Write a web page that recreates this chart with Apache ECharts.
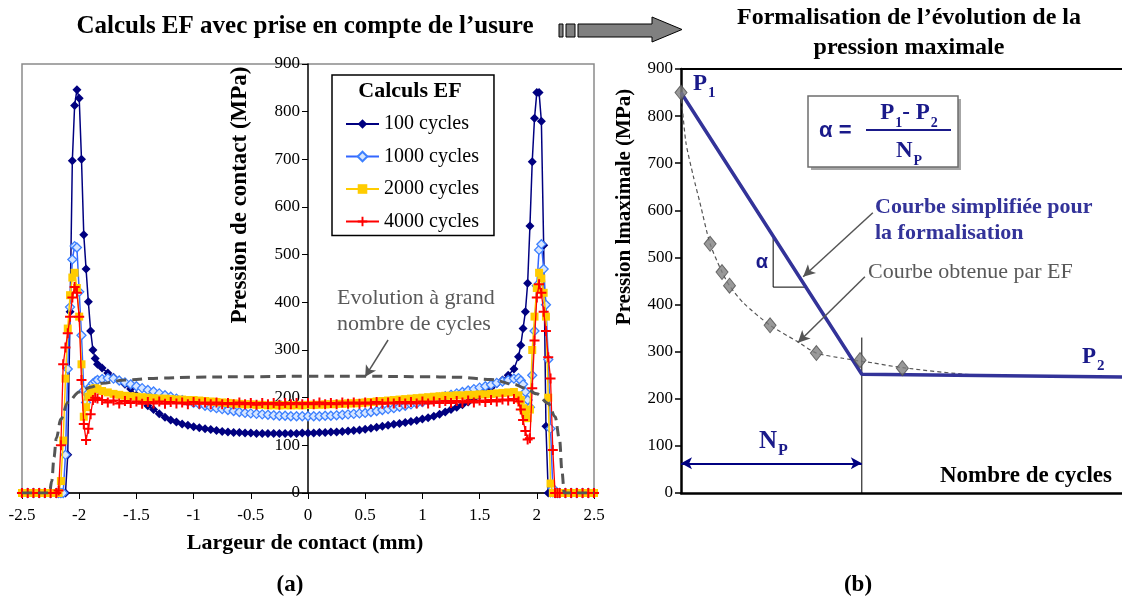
<!DOCTYPE html>
<html>
<head>
<meta charset="utf-8">
<script src="https://cdn.jsdelivr.net/npm/echarts@6/dist/echarts.min.js"></script>
<style>
html,body{margin:0;padding:0;background:#fff;}
#c{width:1122px;height:606px;}
</style>
</head>
<body>
<div id="c"></div>
<script>
// ---------- (a) FE contact pressure profiles ----------
const X = [-2.5,-2.45,-2.4,-2.35,-2.3,-2.25,
  -2.2,-2.18,-2.16,-2.14,-2.12,-2.1,-2.08,-2.06,-2.04,-2.02,-2,-1.98,-1.96,-1.94,-1.92,-1.9,-1.88,-1.86,-1.84,
  -1.8,-1.75,-1.7,-1.65,-1.6,-1.55,-1.5,-1.45,-1.4,-1.35,-1.3,-1.25,-1.2,-1.15,-1.1,-1.05,-1,-0.95,-0.9,-0.85,-0.8,-0.75,-0.7,-0.65,-0.6,-0.55,-0.5,-0.45,-0.4,-0.35,-0.3,-0.25,-0.2,-0.15,-0.1,-0.05,
  0,0.05,0.1,0.15,0.2,0.25,0.3,0.35,0.4,0.45,0.5,0.55,0.6,0.65,0.7,0.75,0.8,0.85,0.9,0.95,1,1.05,1.1,1.15,1.2,1.25,1.3,1.35,1.4,1.45,1.5,1.55,1.6,1.65,1.7,1.75,1.8,
  1.84,1.86,1.88,1.9,1.92,1.94,1.96,1.98,2,2.02,2.04,2.06,2.08,2.1,2.12,2.14,2.16,2.18,2.2,
  2.25,2.3,2.35,2.4,2.45,2.5];

const P100 = [0,0,0,0,0,0,
  0,0,0,0,0,80,380,697,813,846,828,700,542,470,401,340,300,282,270,
  262,252,243,236,228,218,205,193,183,175,166,159,153,149,145,142,139,137,135,133,131,129,128,127,127,126,126,125,125,125,125,125,125,125,125,126,
  126,126,127,127,128,128,129,130,131,132,134,136,138,140,142,144,146,148,150,152,155,158,161,165,170,175,180,185,191,198,205,213,221,229,237,247,260,
  286,310,345,380,440,560,695,786,840,840,780,520,140,0,0,0,0,0,0,
  0,0,0,0,0,0];

const P1000 = [0,0,0,0,0,0,
  0,0,0,0,80,260,390,490,518,515,422,331,215,190,210,224,230,234,237,
  239,241,240,236,232,228,224,220,216,213,209,205,202,198,195,192,189,186,183,180,178,176,174,172,170,168,167,166,165,164,163,162,162,161,161,161,
  161,161,161,162,162,163,164,165,166,167,168,170,172,174,176,178,181,183,186,188,191,194,197,200,203,206,209,212,215,218,221,224,227,231,234,237,240,241,
  236,228,212,195,180,247,340,435,510,522,470,395,280,135,10,0,0,0,0,
  0,0,0,0,0,0];

const P2000 = [0,0,0,0,0,0,
  0,0,25,110,240,345,415,452,462,430,370,270,160,180,202,212,218,220,218,
  214,211,208,206,204,203,202,201,200,199,198,198,197,196,196,195,195,194,193,192,191,190,189,188,187,186,186,185,185,184,184,184,184,184,184,
  184,185,185,185,186,186,187,187,188,188,189,190,191,192,193,194,195,196,197,198,199,200,201,202,203,204,204,205,205,206,206,207,207,208,209,210,211,212,
  205,195,178,165,157,175,300,370,430,462,450,420,370,200,20,0,0,0,0,
  0,0,0,0,0,0];

const P4000 = [0,0,0,0,0,0,
  0,5,100,270,305,335,370,410,432,420,370,237,145,111,135,165,195,200,198,
  195,190,194,188,193,189,192,187,191,188,192,187,191,188,190,186,191,187,190,186,190,186,189,186,190,186,189,185,189,186,189,185,189,186,189,
  186,189,186,190,186,189,186,190,187,190,187,190,187,191,187,190,188,191,188,191,188,192,188,192,189,193,189,193,190,194,190,194,191,195,192,196,194,197,
  192,175,153,130,112,115,220,320,410,438,420,380,340,285,240,90,0,0,0,
  0,0,0,0,0,0];

// long-term evolution (dashed)
const EVOL_X = [-2.5,-2.26,-2.24,-2.22,-2.2,-2.16,-2.1,-2,-1.9,-1.8,-1.6,-1.3,-1,-0.5,0,0.5,1,1.3,1.6,1.8,1.9,2,2.1,2.16,2.2,2.22,2.24,2.5];
const EVOL_Y = [0,0,25,75,115,155,190,212,222,230,237,241,243,244,245,245,244,243,238,228,220,208,188,160,110,45,0,0];
const EVOL_ARROW = [[0.70,321],[0.50,244]];

const SERIES_NAMES = ['100 cycles','1000 cycles','2000 cycles','4000 cycles'];

// ---------- (b) formalisation ----------
const FE_CYCLES = [0,6.6,9.3,11.0,20.2,30.7,40.6,50.2];
const FE_PMAX   = [850,529,469,440,356,297,282,265];
const FE_CURVE_X = [0,1.1,2.8,4.3,6.6,9.3,11.0,14.2,20.2,26.3,30.7,36.7,40.6,43.6,50.2,66,86,100];
const FE_CURVE_Y = [850,745,672,616,529,469,440,403,356,322,297,286,280,276,266,251,247,246];
const SIMPL_X = [0,41,100];
const SIMPL_Y = [850,252,246];
const NP = 41;
const NP_LINE_TOP = 330;
const NP_ARROW_Y = 63;
const ALPHA_TRI = [[20.9,542],[20.9,437],[28.3,437]];
const ARROW_SIMPL = [[43.5,595],[27.7,459]];
const ARROW_FE = [[41.7,459],[26.5,319]];

const SERIF = '"Liberation Serif", "DejaVu Serif", serif';
const BLUE = '#333399';
const NAVYTXT = '#1a1a8a';

const pair = (xs, ys) => xs.map((x, i) => [x, ys[i]]);
const PLUS = 'path://M4,0h2v4h4v2h-4v4h-2v-4h-4v-2h4z';

const chart = echarts.init(document.getElementById('c'), null, {renderer: 'canvas'});

const axisLbl = {fontFamily: SERIF, fontSize: 17, color: '#000'};
const noLine = {show: false};

const option = {
  animation: false,
  backgroundColor: '#fff',
  grid: [
    {left: 22, top: 64, width: 572, height: 429, show: true, borderColor: '#8a8a8a', borderWidth: 1.5, backgroundColor: 'transparent', outerBoundsMode: 'none', containLabel: false},
    {left: 681, top: 69, width: 441, height: 424, show: false, outerBoundsMode: 'none', containLabel: false}
  ],
  xAxis: [
    {gridIndex: 0, type: 'value', min: -2.5, max: 2.5, interval: 0.5,
     axisLine: {onZero: false, lineStyle: {color: '#000', width: 1.5}},
     axisTick: {show: true, length: 6, lineStyle: {color: '#000'}},
     axisLabel: Object.assign({margin: 14}, axisLbl),
     splitLine: noLine},
    {gridIndex: 1, type: 'value', min: 0, max: 100, position: 'bottom',
     axisLine: {onZero: false, lineStyle: {color: '#000', width: 2.5}},
     axisTick: noLine, axisLabel: noLine, splitLine: noLine},
    {gridIndex: 1, type: 'value', min: 0, max: 100, position: 'top',
     axisLine: {onZero: false, lineStyle: {color: '#000', width: 2}},
     axisTick: noLine, axisLabel: noLine, splitLine: noLine}
  ],
  yAxis: [
    {gridIndex: 0, type: 'value', min: 0, max: 900, interval: 100, position: 'left', offset: -286,
     axisLine: {show: true, onZero: false, lineStyle: {color: '#000', width: 1.5}},
     axisTick: {show: true, length: 6, lineStyle: {color: '#000'}},
     axisLabel: Object.assign({margin: 8}, axisLbl),
     splitLine: noLine},
    {gridIndex: 1, type: 'value', min: 0, max: 900, interval: 100,
     axisLine: {show: true, onZero: false, lineStyle: {color: '#000', width: 2.5}},
     axisTick: {show: true, length: 6, lineStyle: {color: '#000', width: 1.5}},
     axisLabel: Object.assign({margin: 8}, axisLbl),
     splitLine: noLine}
  ],
  legend: {
    data: SERIES_NAMES,
    orient: 'vertical',
    left: 332, top: 75,
    padding: [39, 15, 4, 13],
    itemGap: 12.5,
    itemWidth: 33, itemHeight: 12,
    backgroundColor: '#fff',
    borderColor: '#000', borderWidth: 1.5, borderRadius: 0,
    selectedMode: false,
    textStyle: {fontFamily: SERIF, fontSize: 20, color: '#000', padding: [0,0,0,0]}
  },
  series: [
    {name: '100 cycles', type: 'line', xAxisIndex: 0, yAxisIndex: 0,
     data: pair(X, P100), showAllSymbol: true, symbol: 'diamond', symbolSize: 9,
     lineStyle: {color: '#000080', width: 1.5}, itemStyle: {color: '#000080'}, z: 2},
    {name: '1000 cycles', type: 'line', xAxisIndex: 0, yAxisIndex: 0,
     data: pair(X, P1000), showAllSymbol: true, symbol: 'diamond', symbolSize: 9,
     lineStyle: {color: '#3366FF', width: 1.5}, itemStyle: {color: '#d6e6ff', borderColor: '#3d80ff', borderWidth: 1.3}, z: 3},
    {name: '2000 cycles', type: 'line', xAxisIndex: 0, yAxisIndex: 0,
     data: pair(X, P2000), showAllSymbol: true, symbol: 'rect', symbolSize: 8,
     lineStyle: {color: '#FFCC00', width: 1.5}, itemStyle: {color: '#FFCC00'}, z: 4},
    {name: '4000 cycles', type: 'line', xAxisIndex: 0, yAxisIndex: 0,
     data: pair(X, P4000), showAllSymbol: true, symbol: PLUS, symbolSize: 10,
     lineStyle: {color: '#FF0000', width: 1.3}, itemStyle: {color: '#FF0000'}, z: 5},
    {name: 'evol', type: 'line', xAxisIndex: 0, yAxisIndex: 0,
     data: pair(EVOL_X, EVOL_Y), showSymbol: false, smooth: 0.35, smoothMonotone: 'x',
     lineStyle: {color: '#555', width: 3, type: [10, 6]}, z: 6, silent: true,
     markLine: {silent: true, symbol: ['none', 'arrow'], symbolSize: [9, 11], label: {show: false},
       lineStyle: {color: '#555', width: 1.5, type: 'solid'},
       data: [[{coord: EVOL_ARROW[0]}, {coord: EVOL_ARROW[1]}]]}},

    // (b)
    {name: 'fecurve', type: 'line', xAxisIndex: 1, yAxisIndex: 1,
     data: pair(FE_CURVE_X, FE_CURVE_Y), showSymbol: false, smooth: 0.25,
     lineStyle: {color: '#555', width: 1.2, type: [4, 3]}, z: 2, silent: true,
     markLine: {silent: true, symbol: ['none', 'arrow'], symbolSize: [9, 12], label: {show: false},
       lineStyle: {color: '#555', width: 1.5, type: 'solid'},
       data: [[{coord: ARROW_SIMPL[0]}, {coord: ARROW_SIMPL[1]}],
              [{coord: ARROW_FE[0]}, {coord: ARROW_FE[1]}]]}},
    {name: 'simpl', type: 'line', xAxisIndex: 1, yAxisIndex: 1,
     data: pair(SIMPL_X, SIMPL_Y), showSymbol: false,
     lineStyle: {color: BLUE, width: 3.5}, z: 3, silent: true},
    {name: 'np', type: 'line', xAxisIndex: 1, yAxisIndex: 1,
     data: [[NP, 0], [NP, NP_LINE_TOP]], showSymbol: false,
     lineStyle: {color: '#000', width: 1}, z: 2, silent: true,
     markLine: {silent: true, symbol: ['arrow', 'arrow'], symbolSize: [9, 11], label: {show: false},
       lineStyle: {color: '#000080', width: 2, type: 'solid'},
       data: [[{coord: [0, NP_ARROW_Y]}, {coord: [NP, NP_ARROW_Y]}]]}},
    {name: 'alpha', type: 'line', xAxisIndex: 1, yAxisIndex: 1,
     data: ALPHA_TRI, showSymbol: false,
     lineStyle: {color: '#000', width: 1}, z: 2, silent: true},
    {name: 'fe', type: 'scatter', xAxisIndex: 1, yAxisIndex: 1,
     data: pair(FE_CYCLES, FE_PMAX), symbol: 'diamond', symbolSize: [12, 15],
     itemStyle: {color: '#7f7f7f', borderColor: '#4d4d4d', borderWidth: 1}, z: 5, silent: true}
  ],
  graphic: [
    // titles
    {type: 'text', x: 305, y: 27, style: {text: 'Calculs EF avec prise en compte de l\u2019usure', fontFamily: SERIF, fontSize: 25, fontWeight: 'bold', fill: '#000', align: 'center', verticalAlign: 'middle'}},
    {type: 'text', x: 909, y: 18, style: {text: 'Formalisation de l\u2019\u00e9volution de la', fontFamily: SERIF, fontSize: 24, fontWeight: 'bold', fill: '#000', align: 'center', verticalAlign: 'middle'}},
    {type: 'text', x: 909, y: 48, style: {text: 'pression maximale', fontFamily: SERIF, fontSize: 24, fontWeight: 'bold', fill: '#000', align: 'center', verticalAlign: 'middle'}},
    // block arrow
    {type: 'rect', shape: {x: 559, y: 24, width: 4, height: 13}, style: {fill: '#808080', stroke: '#000', lineWidth: 1}},
    {type: 'rect', shape: {x: 566, y: 24, width: 9, height: 13}, style: {fill: '#808080', stroke: '#000', lineWidth: 1}},
    {type: 'polygon', shape: {points: [[578,24],[652,24],[652,17],[682,29.5],[652,42],[652,37],[578,37]]}, style: {fill: '#808080', stroke: '#000', lineWidth: 1}},
    // (a) axis names
    {type: 'text', x: 240, y: 195, rotation: Math.PI / 2, style: {text: 'Pression de contact (MPa)', fontFamily: SERIF, fontSize: 23, fontWeight: 'bold', fill: '#000', align: 'center', verticalAlign: 'middle'}},
    {type: 'text', x: 305, y: 543, style: {text: 'Largeur de contact (mm)', fontFamily: SERIF, fontSize: 22, fontWeight: 'bold', fill: '#000', align: 'center', verticalAlign: 'middle'}},
    {type: 'text', x: 410, y: 91, z: 100, style: {text: 'Calculs EF', fontFamily: SERIF, fontSize: 22, fontWeight: 'bold', fill: '#000', align: 'center', verticalAlign: 'middle'}},
    {type: 'text', x: 337, y: 298, style: {text: 'Evolution \u00e0 grand', fontFamily: SERIF, fontSize: 22, fill: '#595959', align: 'left', verticalAlign: 'middle'}},
    {type: 'text', x: 337, y: 324, style: {text: 'nombre de cycles', fontFamily: SERIF, fontSize: 22, fill: '#595959', align: 'left', verticalAlign: 'middle'}},
    {type: 'text', x: 290, y: 585, style: {text: '(a)', fontFamily: SERIF, fontSize: 23, fontWeight: 'bold', fill: '#000', align: 'center', verticalAlign: 'middle'}},
    {type: 'text', x: 858, y: 585, style: {text: '(b)', fontFamily: SERIF, fontSize: 23, fontWeight: 'bold', fill: '#000', align: 'center', verticalAlign: 'middle'}},
    // (b) axis name
    {type: 'text', x: 625, y: 207, rotation: Math.PI / 2, style: {text: 'Pression lmaximale (MPa)', fontFamily: SERIF, fontSize: 21, fontWeight: 'bold', fill: '#000', align: 'center', verticalAlign: 'middle'}},
    {type: 'text', x: 940, y: 476, style: {text: 'Nombre de cycles', fontFamily: SERIF, fontSize: 23, fontWeight: 'bold', fill: '#000', align: 'left', verticalAlign: 'middle'}},
    // P1, P2, NP, alpha
    {type: 'text', x: 693, y: 84, style: {text: '{p|P}{s|1}', align: 'left', verticalAlign: 'middle',
      rich: {p: {fontFamily: SERIF, fontSize: 23, fontWeight: 'bold', fill: NAVYTXT, lineHeight: 24, verticalAlign: 'bottom'},
             s: {fontFamily: SERIF, fontSize: 15, fontWeight: 'bold', fill: NAVYTXT, lineHeight: 18, verticalAlign: 'bottom', padding: [0,0,-5,1]}}}},
    {type: 'text', x: 1082, y: 357, style: {text: '{p|P}{s|2}', align: 'left', verticalAlign: 'middle',
      rich: {p: {fontFamily: SERIF, fontSize: 23, fontWeight: 'bold', fill: NAVYTXT, lineHeight: 24, verticalAlign: 'bottom'},
             s: {fontFamily: SERIF, fontSize: 15, fontWeight: 'bold', fill: NAVYTXT, lineHeight: 18, verticalAlign: 'bottom', padding: [0,0,-5,1]}}}},
    {type: 'text', x: 759, y: 441, style: {text: '{p|N}{s|P}', align: 'left', verticalAlign: 'middle',
      rich: {p: {fontFamily: SERIF, fontSize: 25, fontWeight: 'bold', fill: NAVYTXT, lineHeight: 26, verticalAlign: 'bottom'},
             s: {fontFamily: SERIF, fontSize: 16, fontWeight: 'bold', fill: NAVYTXT, lineHeight: 18, verticalAlign: 'bottom', padding: [0,0,-5,1]}}}},
    {type: 'text', x: 762, y: 262, style: {text: '\u03b1', fontFamily: '"Liberation Sans", sans-serif', fontSize: 20, fontWeight: 'bold', fill: NAVYTXT, align: 'center', verticalAlign: 'middle'}},
    // annotations
    {type: 'text', x: 875, y: 207, style: {text: 'Courbe simplifi\u00e9e pour', fontFamily: SERIF, fontSize: 22, fontWeight: 'bold', fill: BLUE, align: 'left', verticalAlign: 'middle'}},
    {type: 'text', x: 875, y: 233, style: {text: 'la formalisation', fontFamily: SERIF, fontSize: 22, fontWeight: 'bold', fill: BLUE, align: 'left', verticalAlign: 'middle'}},
    {type: 'text', x: 868, y: 272, style: {text: 'Courbe obtenue par EF', fontFamily: SERIF, fontSize: 22, fill: '#595959', align: 'left', verticalAlign: 'middle'}},
    // formula box
    {type: 'rect', shape: {x: 811, y: 99, width: 150, height: 71}, style: {fill: '#a6a6a6'}},
    {type: 'rect', shape: {x: 808, y: 96, width: 150, height: 71}, style: {fill: '#fff', stroke: '#6e6e6e', lineWidth: 1.5}},
    {type: 'text', x: 819, y: 131, style: {text: '\u03b1 =', fontFamily: '"Liberation Sans", sans-serif', fontSize: 22, fontWeight: 'bold', fill: NAVYTXT, align: 'left', verticalAlign: 'middle'}},
    {type: 'text', x: 909, y: 113, style: {text: '{p|P}{s|1}{p|- P}{s|2}', align: 'center', verticalAlign: 'middle',
      rich: {p: {fontFamily: SERIF, fontSize: 23, fontWeight: 'bold', fill: NAVYTXT, lineHeight: 24, verticalAlign: 'bottom'},
             s: {fontFamily: SERIF, fontSize: 14, fontWeight: 'bold', fill: NAVYTXT, lineHeight: 18, verticalAlign: 'bottom', padding: [0,0,-5,1]}}}},
    {type: 'line', shape: {x1: 866, y1: 130, x2: 951, y2: 130}, style: {stroke: NAVYTXT, lineWidth: 2}},
    {type: 'text', x: 909, y: 151, style: {text: '{p|N}{s|P}', align: 'center', verticalAlign: 'middle',
      rich: {p: {fontFamily: SERIF, fontSize: 23, fontWeight: 'bold', fill: NAVYTXT, lineHeight: 24, verticalAlign: 'bottom'},
             s: {fontFamily: SERIF, fontSize: 14, fontWeight: 'bold', fill: NAVYTXT, lineHeight: 18, verticalAlign: 'bottom', padding: [0,0,-5,1]}}}}
  ]
};
chart.setOption(option);
</script>
</body>
</html>
